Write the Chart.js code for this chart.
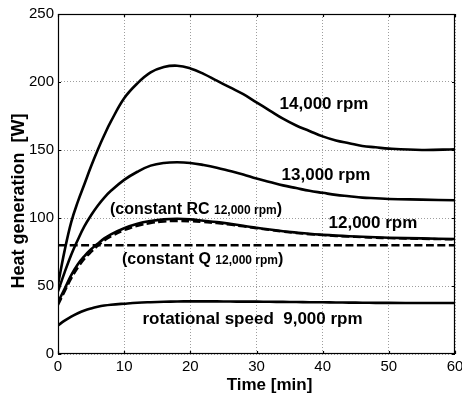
<!DOCTYPE html>
<html>
<head>
<meta charset="utf-8">
<script src="https://cdn.jsdelivr.net/npm/chart.js@4/dist/chart.umd.min.js"></script>
<style>
  html, body { margin: 0; padding: 0; background: #fff; }
  #wrap { width: 462px; height: 399px; position: relative; }
</style>
</head>
<body>
<div id="wrap"><canvas id="c" width="462" height="399"></canvas></div>
<script>
// ---- data ----
const time = [0,1,2,3,4,5,6,7,8,10,12,14,16,18,20,22,24,26,28,30,32,34,36,38,40,42,44,46,48,50,55,60];
const heat14000 = [51,76,97,112,125,138,150,161,171,188,199,207,211,212,210,206,201,196,191,185,179,173,168,164,160,157,155,153,152,151,150,150.5];
const heat13000 = [46,60,73,84,94,102,109,115,120,128,134,138.5,140.5,141,140.5,139,137,134.5,132,129,126.5,124,122,120,118.5,117,116,115,114.5,114,113.5,113];
const heat12000 = [38,48,58,66,72,77,81,85,88,92.5,95.8,97.8,99,99.4,99,98,97,95.7,94.3,92.8,91.5,90.3,89.3,88.4,87.7,87.1,86.6,86.2,85.8,85.5,85,84.6];
const heatRC12000 = [36,46,55.5,63.5,70,75,79.5,83.5,86.5,91,94.3,96.3,97.4,97.8,97.6,97,96.2,95.1,93.8,92.5,91.2,90,89,88.1,87.4,86.8,86.3,85.9,85.5,85.2,84.7,84.3];
const heat9000 = [21,24.5,27.5,30,32,33.5,34.7,35.6,36.2,37,37.7,38.1,38.4,38.6,38.7,38.7,38.7,38.6,38.5,38.5,38.4,38.3,38.2,38.1,38,37.9,37.8,37.7,37.6,37.6,37.5,37.5];
const timeQ = [0,60];
const heatQ12000 = [80,80];
const xTicks = [0,10,20,30,40,50,60];
const yTicks = [0,50,100,150,200,250];
const xTitle = 'Time [min]';
const yTitle = 'Heat generation  [W]';

// in-plot labels (position in data units)
const notes = [
  { parts: [['14,000 rpm', 17]], t: 40.2, v: 183.8, align: 'center' },
  { parts: [['13,000 rpm', 17]], t: 40.5, v: 131.6, align: 'center' },
  { parts: [['12,000 rpm', 17]], t: 47.6, v: 96.3, align: 'center' },
  { parts: [['(constant RC ', 16], ['12,000 rpm', 12], [')', 16]], t: 7.86, v: 105.9, align: 'left' },
  { parts: [['(constant Q ', 16], ['12,000 rpm', 12], [')', 16]], t: 9.67, v: 69.1, align: 'left' },
  { parts: [['rotational speed  9,000 rpm', 17]], t: 29.4, v: 25.7, align: 'center' }
];

const pts = (xs, ys) => xs.map((x, i) => ({ x: x, y: ys[i] }));
const FONT = '"Liberation Sans", Arial, Helvetica, sans-serif';

const solid = (label, ys) => ({
  label, data: pts(time, ys), borderColor: '#000', borderWidth: 2.6,
  pointRadius: 0, fill: false, tension: 0.4
});
const dashed = (label, xs, ys) => ({
  label, data: pts(xs, ys), borderColor: '#000', borderWidth: 2.4, borderDash: [8, 3.5],
  pointRadius: 0, fill: false, tension: 0.4
});

const decor = {
  id: 'decor',
  afterDatasetsDraw(chart) {
    const { ctx, chartArea: a, scales: { x, y } } = chart;
    ctx.save();
    // box
    ctx.setLineDash([]);
    ctx.strokeStyle = '#000'; ctx.lineWidth = 1.2;
    ctx.strokeRect(a.left + 0.5, a.top + 0.5, a.right - a.left - 1, a.bottom - a.top - 1);
    // inner tick marks
    ctx.beginPath();
    xTicks.forEach(v => {
      const px = Math.round(x.getPixelForValue(v)) + 0.5;
      ctx.moveTo(px, a.bottom); ctx.lineTo(px, a.bottom - 3);
      ctx.moveTo(px, a.top); ctx.lineTo(px, a.top + 3);
    });
    yTicks.forEach(v => {
      const py = Math.round(y.getPixelForValue(v)) + 0.5;
      ctx.moveTo(a.left, py); ctx.lineTo(a.left + 3, py);
      ctx.moveTo(a.right, py); ctx.lineTo(a.right - 3, py);
    });
    ctx.stroke();
    // labels
    ctx.fillStyle = '#000';
    ctx.textBaseline = 'middle';
    notes.forEach(n => {
      const widths = n.parts.map(p => { ctx.font = 'bold ' + p[1] + 'px ' + FONT; return ctx.measureText(p[0]).width; });
      const total = widths.reduce((s, w) => s + w, 0);
      let px = x.getPixelForValue(n.t);
      if (n.align === 'center') px -= total / 2;
      const py = y.getPixelForValue(n.v);
      n.parts.forEach((p, i) => {
        ctx.font = 'bold ' + p[1] + 'px ' + FONT;
        ctx.textAlign = 'left';
        ctx.fillText(p[0], px, py + (p[1] < 14 ? 1 : 0));
        px += widths[i];
      });
    });
    // axis titles
    ctx.font = 'bold 17px ' + FONT;
    ctx.textAlign = 'center';
    ctx.fillText(xTitle, (a.left + a.right) / 2 + 13, a.bottom + 31);
    ctx.save();
    ctx.translate(a.left - 39, (a.top + a.bottom) / 2 + 17);
    ctx.rotate(-Math.PI / 2);
    ctx.font = 'bold 18px ' + FONT;
    ctx.fillText(yTitle, 0, 0);
    ctx.restore();
    ctx.restore();
  }
};

new Chart(document.getElementById('c'), {
  type: 'line',
  plugins: [decor],
  data: {
    datasets: [
      solid('14,000 rpm', heat14000),
      solid('13,000 rpm', heat13000),
      solid('12,000 rpm', heat12000),
      dashed('constant RC 12,000 rpm', time, heatRC12000),
      dashed('constant Q 12,000 rpm', timeQ, heatQ12000),
      solid('9,000 rpm', heat9000)
    ]
  },
  options: {
    responsive: false,
    animation: false,
    devicePixelRatio: 1,
    layout: { padding: { left: 0, right: 7, top: 14, bottom: 0 } },
    plugins: { legend: { display: false }, tooltip: { enabled: false } },
    scales: {
      x: {
        type: 'linear', min: 0, max: 60,
        afterBuildTicks: s => { s.ticks = xTicks.map(v => ({ value: v })); },
        afterFit: s => { s.height = 45; s.paddingLeft = 0; s.paddingRight = 0; },
        ticks: { color: '#000', font: { family: FONT, size: 15 }, padding: 4, maxRotation: 0 },
        grid: { color: 'rgba(0,0,0,0.38)', drawTicks: false, lineWidth: 1 },
        border: { display: false, dash: [1, 2] }
      },
      y: {
        min: 0, max: 250,
        afterBuildTicks: s => { s.ticks = yTicks.map(v => ({ value: v })); },
        afterFit: s => { s.width = 58; s.paddingTop = 0; s.paddingBottom = 0; },
        ticks: { color: '#000', font: { family: FONT, size: 15 }, padding: 4 },
        grid: { color: 'rgba(0,0,0,0.38)', drawTicks: false, lineWidth: 1 },
        border: { display: false, dash: [1, 2] }
      }
    }
  }
});
</script>
</body>
</html>
